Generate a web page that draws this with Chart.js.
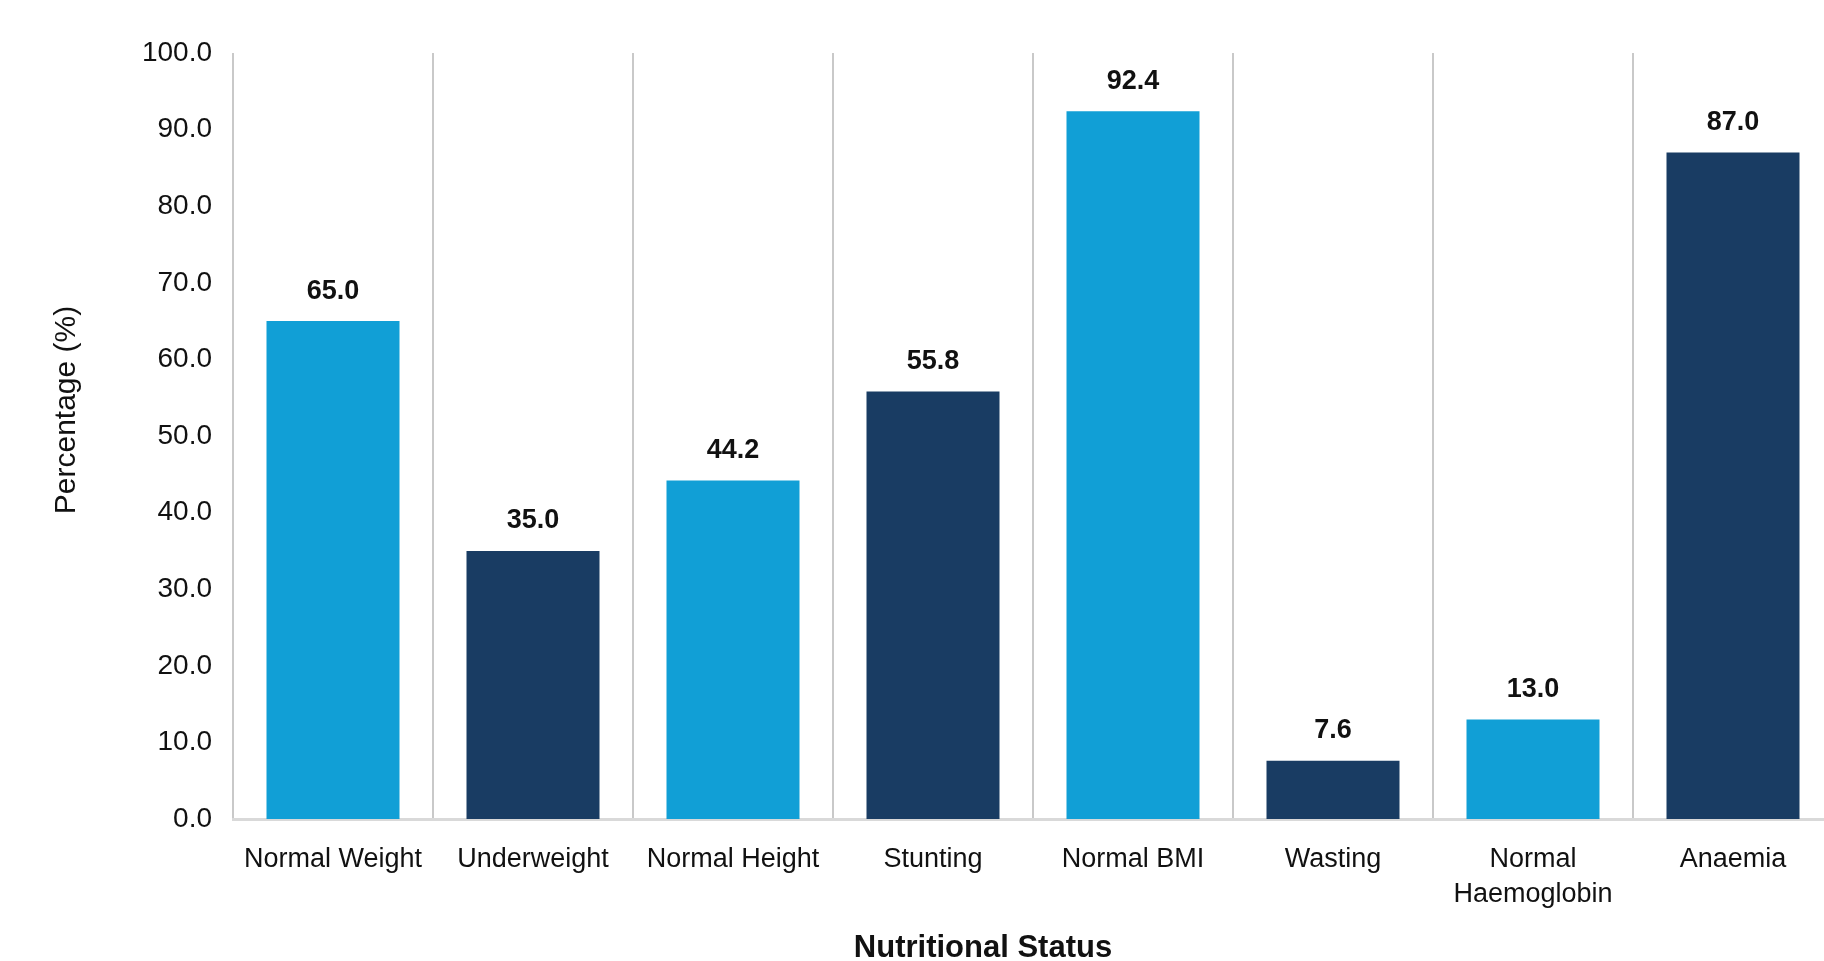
<!DOCTYPE html>
<html>
<head>
<meta charset="utf-8">
<script src="https://cdn.jsdelivr.net/npm/chart.js@4/dist/chart.umd.min.js"></script>
<style>
  html, body { margin: 0; padding: 0; background: #fff; overflow: hidden; }
  canvas { display: block; }
</style>
</head>
<body>
<canvas id="myChart" width="1834" height="961"></canvas>
<script>
var categories = ['Normal Weight', 'Underweight', 'Normal Height', 'Stunting', 'Normal BMI', 'Wasting', ['Normal', 'Haemoglobin'], 'Anaemia'];
var percentages = [65.0, 35.0, 44.2, 55.8, 92.4, 7.6, 13.0, 87.0];
var barColors = ['#119FD6', '#193C63', '#119FD6', '#193C63', '#119FD6', '#193C63', '#119FD6', '#193C63'];
var yTitle = 'Percentage (%)';
var xTitle = 'Nutritional Status';

var FONT = "'Liberation Sans', Arial, sans-serif";

// value labels above bars + axis titles
var labelsPlugin = {
  id: 'labelsPlugin',
  afterDatasetsDraw: function (chart) {
    var ctx = chart.ctx;
    var meta = chart.getDatasetMeta(0);
    ctx.save();
    ctx.fillStyle = '#111';
    ctx.font = 'bold 27px ' + FONT;
    ctx.textAlign = 'center';
    ctx.textBaseline = 'middle';
    meta.data.forEach(function (bar, i) {
      ctx.fillText(percentages[i].toFixed(1), bar.x, bar.y - 30);
    });
    ctx.restore();
  },
  afterDraw: function (chart) {
    var ctx = chart.ctx;
    ctx.save();
    ctx.fillStyle = '#111';
    ctx.font = 'bold 31px ' + FONT;
    ctx.textAlign = 'center';
    ctx.textBaseline = 'alphabetic';
    ctx.fillText(xTitle, 983, 957);

    ctx.translate(67, 410);
    ctx.rotate(-Math.PI / 2);
    ctx.font = '30px ' + FONT;
    ctx.textBaseline = 'middle';
    ctx.fillText(yTitle, 0, 0);
    ctx.restore();
  }
};

var ctx = document.getElementById('myChart').getContext('2d');
var myChart = new Chart(ctx, {
  type: 'bar',
  data: {
    labels: categories,
    datasets: [{
      data: percentages,
      backgroundColor: barColors,
      borderWidth: 0,
      categoryPercentage: 1.0,
      barPercentage: 0.665
    }]
  },
  options: {
    responsive: false,
    animation: false,
    layout: { padding: { top: 53, right: 1, left: 0, bottom: 0 } },
    plugins: {
      legend: { display: false },
      tooltip: { enabled: false }
    },
    scales: {
      x: {
        offset: true,
        grid: {
          display: true,
          offset: true,
          color: '#c9c9c9',
          lineWidth: 2,
          drawTicks: false
        },
        border: { display: true, color: '#d9d9d9', width: 3 },
        ticks: {
          color: '#111',
          font: { family: FONT, size: 27, lineHeight: 1.3 },
          padding: 23,
          maxRotation: 0,
          autoSkip: false
        },
        afterFit: function (scale) { scale.height = 142; }
      },
      y: {
        min: 0,
        max: 100,
        grid: { display: false, drawTicks: false },
        border: { display: false },
        ticks: {
          stepSize: 10,
          color: '#111',
          font: { family: FONT, size: 28 },
          padding: 21,
          callback: function (v) { return v.toFixed(1); }
        },
        afterFit: function (scale) { scale.width = 233; }
      }
    }
  },
  plugins: [labelsPlugin]
});
</script>
</body>
</html>
